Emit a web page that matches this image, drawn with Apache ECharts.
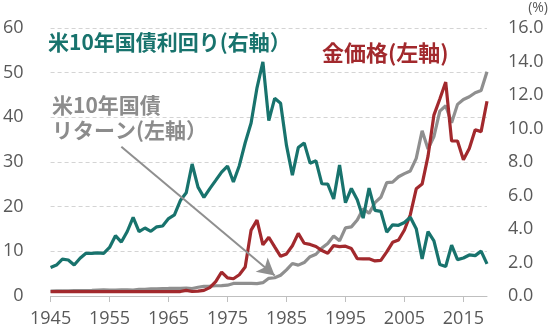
<!DOCTYPE html>
<html>
<head>
<meta charset="utf-8">
<script src="https://cdn.jsdelivr.net/npm/echarts@6/dist/echarts.min.js"></script>
<style>
html,body{margin:0;padding:0;background:#fff;}
#chart{width:550px;height:336px;}
</style>
</head>
<body>
<div id="chart"></div>
<script>
const years = ['1945','1946','1947','1948','1949','1950','1951','1952','1953','1954',
'1955','1956','1957','1958','1959','1960','1961','1962','1963','1964',
'1965','1966','1967','1968','1969','1970','1971','1972','1973','1974',
'1975','1976','1977','1978','1979','1980','1981','1982','1983','1984',
'1985','1986','1987','1988','1989','1990','1991','1992','1993','1994',
'1995','1996','1997','1998','1999','2000','2001','2002','2003','2004',
'2005','2006','2007','2008','2009','2010','2011','2012','2013','2014',
'2015','2016','2017','2018','2019'];

// 米10年国債利回り (%), right axis
const bondYield = [1.70,1.85,2.20,2.15,1.85,2.25,2.55,2.55,2.58,2.55,
2.90,3.60,3.22,3.85,4.70,3.84,4.06,3.86,4.13,4.18,
4.62,4.84,5.70,6.16,7.88,6.50,5.89,6.41,6.90,7.40,
7.76,6.81,7.78,9.15,10.33,12.43,13.98,10.47,11.80,11.51,
8.99,7.22,8.86,9.14,7.93,8.07,6.70,6.68,5.79,7.82,
5.57,6.42,5.74,4.65,6.44,5.11,5.05,3.81,4.25,4.22,
4.39,4.70,4.02,2.21,3.84,3.29,1.88,1.76,3.04,2.17,
2.27,2.45,2.41,2.68,1.92];

// 金価格 (index), left axis
const gold = [1.00,1.00,1.00,1.00,1.00,1.00,1.00,1.00,1.00,1.00,
1.00,1.00,1.00,1.00,1.00,1.00,1.00,1.00,1.00,1.00,
1.00,1.00,1.00,1.25,1.01,1.08,1.26,1.87,3.23,5.37,
4.04,3.87,4.75,6.51,14.75,16.99,11.45,13.16,11.00,8.88,
9.42,11.26,14.02,11.82,11.55,11.09,10.17,9.59,11.29,11.04,
11.15,10.64,8.36,8.29,8.32,7.86,7.97,9.87,12.02,12.55,
14.78,18.20,24.00,25.06,31.30,40.50,44.10,47.90,34.70,34.70,
30.50,33.00,37.20,36.80,43.60];

// 米10年国債リターン (index), left axis
const bondReturn = [1.10,1.13,1.15,1.17,1.22,1.23,1.22,1.25,1.30,1.35,
1.33,1.30,1.39,1.36,1.32,1.48,1.50,1.59,1.62,1.68,
1.69,1.74,1.71,1.77,1.68,1.96,2.15,2.21,2.29,2.34,
2.42,2.81,2.85,2.82,2.84,2.76,2.98,3.96,4.09,4.65,
5.85,7.27,6.91,7.48,8.80,9.35,10.75,11.76,13.43,12.35,
15.25,15.47,17.00,19.54,18.50,20.90,22.10,25.40,25.50,26.70,
27.40,28.00,30.80,37.00,32.90,35.70,41.40,42.60,38.80,42.90,
44.00,44.60,45.50,46.00,50.20];

const leftTicks = {min:0, max:60, interval:10};
const rightTicks = {min:0, max:16, interval:2};

const TEAL = '#18736d', RED = '#a2292d', GRAY = '#8f8f8f';
const LABEL = '#595959';
const chart = echarts.init(document.getElementById('chart'), null, {renderer:'canvas'});
const tickFont = {fontFamily:'Open Sans', fontSize:18, color:LABEL};
const cjk = '"Noto Sans CJK JP", sans-serif';

chart.setOption({
  animation:false,
  backgroundColor:'#fff',
  grid:{left:50, right:63, top:28, bottom:40, containLabel:false},
  xAxis:{
    type:'category', data:years, boundaryGap:false,
    axisLine:{lineStyle:{color:'#bfbfbf', width:1}},
    axisTick:{show:true, interval:9, length:6, lineStyle:{color:'#bfbfbf'}},
    axisLabel:Object.assign({interval:9, margin:14}, tickFont),
    splitLine:{show:false}
  },
  yAxis:[
    {type:'value', min:leftTicks.min, max:leftTicks.max, interval:leftTicks.interval, position:'left',
     axisLine:{show:false}, axisTick:{show:false},
     axisLabel:Object.assign({margin:27}, tickFont),
     splitLine:{show:true, lineStyle:{color:'#d4d4d4', type:[4,3], width:1}}},
    {type:'value', min:rightTicks.min, max:rightTicks.max, interval:rightTicks.interval, position:'right',
     axisLine:{show:false}, axisTick:{show:false},
     axisLabel:Object.assign({margin:21, formatter:v=>v.toFixed(1)}, tickFont),
     splitLine:{show:false}}
  ],
  series:[
    {name:'米10年国債リターン(左軸）', type:'line', yAxisIndex:0, data:bondReturn, symbol:'none', z:2,
     lineStyle:{color:GRAY, width:3.2}, itemStyle:{color:GRAY},
     markLine:{silent:true, symbol:['none','arrow'], symbolSize:[14,17], label:{show:false},
       lineStyle:{color:GRAY, width:2, type:'solid'},
       data:[[{coord:['1957',33.4]},{coord:['1983',4.6]}]]}},
    {name:'金価格(左軸)', type:'line', yAxisIndex:0, data:gold, symbol:'none', z:3,
     lineStyle:{color:RED, width:3.2}, itemStyle:{color:RED}},
    {name:'米10年国債利回り(右軸）', type:'line', yAxisIndex:1, data:bondYield, symbol:'none', z:4,
     lineStyle:{color:TEAL, width:3.2}, itemStyle:{color:TEAL}}
  ],
  graphic:[
    {type:'text', left:48, top:32, style:{text:'米10年国債利回り(右軸）', fill:TEAL, font:'bold 21px '+cjk}},
    {type:'text', left:322, top:42, style:{text:'金価格(左軸)', fill:RED, font:'bold 22px '+cjk}},
    {type:'text', left:52, top:93, style:{text:'米10年国債\nリターン(左軸）', fill:'#8c8c8c', font:'bold 21px '+cjk, lineHeight:25}},
    {type:'text', right:2, top:1, style:{text:'(%)', fill:LABEL, font:'14px "Open Sans"'}}
  ]
});
</script>
</body>
</html>
